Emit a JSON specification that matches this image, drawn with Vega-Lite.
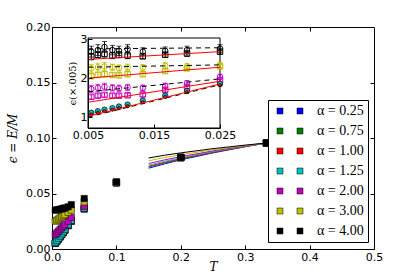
{
  "$schema": "https://vega.github.io/schema/vega-lite/v6.json",
  "width": 322,
  "height": 222,
  "autosize": {"type": "none"},
  "padding": {"left": 52, "top": 27, "right": 41, "bottom": 28},
  "config": {
    "view": {"stroke": "black", "strokeWidth": 1},
    "axis": {
      "grid": false,
      "domainColor": "black",
      "tickColor": "black",
      "labelColor": "black",
      "labelFont": "DejaVu Sans",
      "labelFontSize": 11,
      "labelFlush": false,
      "labelOverlap": false,
      "tickSize": -4,
      "titleColor": "black",
      "titleFontWeight": "normal"
    }
  },
  "datasets": {
    "main": [
      {"a": "α = 0.25", "T": 0.005, "e": 0.005}, {"a": "α = 0.25", "T": 0.0075, "e": 0.0068}, {"a": "α = 0.25", "T": 0.01, "e": 0.0088}, {"a": "α = 0.25", "T": 0.0125, "e": 0.0108}, {"a": "α = 0.25", "T": 0.015, "e": 0.0128}, {"a": "α = 0.25", "T": 0.0175, "e": 0.0148}, {"a": "α = 0.25", "T": 0.02, "e": 0.0168}, {"a": "α = 0.25", "T": 0.025, "e": 0.021}, {"a": "α = 0.25", "T": 0.03, "e": 0.025}, {"a": "α = 0.25", "T": 0.05, "e": 0.036}, {"a": "α = 0.25", "T": 0.1, "e": 0.0595}, {"a": "α = 0.25", "T": 0.2, "e": 0.0822}, {"a": "α = 0.25", "T": 0.333, "e": 0.0953},
      {"a": "α = 0.75", "T": 0.005, "e": 0.0052}, {"a": "α = 0.75", "T": 0.0075, "e": 0.007}, {"a": "α = 0.75", "T": 0.01, "e": 0.009}, {"a": "α = 0.75", "T": 0.0125, "e": 0.011}, {"a": "α = 0.75", "T": 0.015, "e": 0.013}, {"a": "α = 0.75", "T": 0.0175, "e": 0.015}, {"a": "α = 0.75", "T": 0.02, "e": 0.017}, {"a": "α = 0.75", "T": 0.025, "e": 0.0212}, {"a": "α = 0.75", "T": 0.03, "e": 0.0252}, {"a": "α = 0.75", "T": 0.05, "e": 0.0362}, {"a": "α = 0.75", "T": 0.1, "e": 0.0597}, {"a": "α = 0.75", "T": 0.2, "e": 0.0823}, {"a": "α = 0.75", "T": 0.333, "e": 0.0954},
      {"a": "α = 1.00", "T": 0.005, "e": 0.0054}, {"a": "α = 1.00", "T": 0.0075, "e": 0.0072}, {"a": "α = 1.00", "T": 0.01, "e": 0.0092}, {"a": "α = 1.00", "T": 0.0125, "e": 0.0112}, {"a": "α = 1.00", "T": 0.015, "e": 0.0132}, {"a": "α = 1.00", "T": 0.0175, "e": 0.0152}, {"a": "α = 1.00", "T": 0.02, "e": 0.0172}, {"a": "α = 1.00", "T": 0.025, "e": 0.0214}, {"a": "α = 1.00", "T": 0.03, "e": 0.0254}, {"a": "α = 1.00", "T": 0.05, "e": 0.0364}, {"a": "α = 1.00", "T": 0.1, "e": 0.0598}, {"a": "α = 1.00", "T": 0.2, "e": 0.0824}, {"a": "α = 1.00", "T": 0.333, "e": 0.0954},
      {"a": "α = 1.25", "T": 0.005, "e": 0.0058}, {"a": "α = 1.25", "T": 0.0075, "e": 0.0076}, {"a": "α = 1.25", "T": 0.01, "e": 0.0096}, {"a": "α = 1.25", "T": 0.0125, "e": 0.0116}, {"a": "α = 1.25", "T": 0.015, "e": 0.0136}, {"a": "α = 1.25", "T": 0.0175, "e": 0.0156}, {"a": "α = 1.25", "T": 0.02, "e": 0.0176}, {"a": "α = 1.25", "T": 0.025, "e": 0.0218}, {"a": "α = 1.25", "T": 0.03, "e": 0.0258}, {"a": "α = 1.25", "T": 0.05, "e": 0.0368}, {"a": "α = 1.25", "T": 0.1, "e": 0.06}, {"a": "α = 1.25", "T": 0.2, "e": 0.0825}, {"a": "α = 1.25", "T": 0.333, "e": 0.0955},
      {"a": "α = 2.00", "T": 0.005, "e": 0.013}, {"a": "α = 2.00", "T": 0.0075, "e": 0.0145}, {"a": "α = 2.00", "T": 0.01, "e": 0.016}, {"a": "α = 2.00", "T": 0.0125, "e": 0.0175}, {"a": "α = 2.00", "T": 0.015, "e": 0.019}, {"a": "α = 2.00", "T": 0.0175, "e": 0.0205}, {"a": "α = 2.00", "T": 0.02, "e": 0.022}, {"a": "α = 2.00", "T": 0.025, "e": 0.025}, {"a": "α = 2.00", "T": 0.03, "e": 0.0285}, {"a": "α = 2.00", "T": 0.05, "e": 0.0385}, {"a": "α = 2.00", "T": 0.1, "e": 0.0598}, {"a": "α = 2.00", "T": 0.2, "e": 0.0822}, {"a": "α = 2.00", "T": 0.333, "e": 0.0955},
      {"a": "α = 3.00", "T": 0.005, "e": 0.025}, {"a": "α = 3.00", "T": 0.0075, "e": 0.026}, {"a": "α = 3.00", "T": 0.01, "e": 0.027}, {"a": "α = 3.00", "T": 0.0125, "e": 0.028}, {"a": "α = 3.00", "T": 0.015, "e": 0.029}, {"a": "α = 3.00", "T": 0.0175, "e": 0.03}, {"a": "α = 3.00", "T": 0.02, "e": 0.031}, {"a": "α = 3.00", "T": 0.025, "e": 0.033}, {"a": "α = 3.00", "T": 0.03, "e": 0.035}, {"a": "α = 3.00", "T": 0.05, "e": 0.0425}, {"a": "α = 3.00", "T": 0.1, "e": 0.0602}, {"a": "α = 3.00", "T": 0.2, "e": 0.0826}, {"a": "α = 3.00", "T": 0.333, "e": 0.0955},
      {"a": "α = 4.00", "T": 0.005, "e": 0.035}, {"a": "α = 4.00", "T": 0.0075, "e": 0.0352}, {"a": "α = 4.00", "T": 0.01, "e": 0.0355}, {"a": "α = 4.00", "T": 0.0125, "e": 0.0358}, {"a": "α = 4.00", "T": 0.015, "e": 0.0362}, {"a": "α = 4.00", "T": 0.0175, "e": 0.0366}, {"a": "α = 4.00", "T": 0.02, "e": 0.037}, {"a": "α = 4.00", "T": 0.025, "e": 0.038}, {"a": "α = 4.00", "T": 0.03, "e": 0.04}, {"a": "α = 4.00", "T": 0.05, "e": 0.0455}, {"a": "α = 4.00", "T": 0.1, "e": 0.0605}, {"a": "α = 4.00", "T": 0.2, "e": 0.0827}, {"a": "α = 4.00", "T": 0.333, "e": 0.0956}
    ],
    "fits": [
      {"a": "α = 0.25", "T": 0.15, "e": 0.0728}, {"a": "α = 0.25", "T": 0.175, "e": 0.0767}, {"a": "α = 0.25", "T": 0.2, "e": 0.0803}, {"a": "α = 0.25", "T": 0.25, "e": 0.0866}, {"a": "α = 0.25", "T": 0.3, "e": 0.0921}, {"a": "α = 0.25", "T": 0.333, "e": 0.0955},
      {"a": "α = 0.75", "T": 0.15, "e": 0.0737}, {"a": "α = 0.75", "T": 0.175, "e": 0.0775}, {"a": "α = 0.75", "T": 0.2, "e": 0.0809}, {"a": "α = 0.75", "T": 0.25, "e": 0.087}, {"a": "α = 0.75", "T": 0.3, "e": 0.0923}, {"a": "α = 0.75", "T": 0.333, "e": 0.0955},
      {"a": "α = 1.00", "T": 0.15, "e": 0.0745}, {"a": "α = 1.00", "T": 0.175, "e": 0.0782}, {"a": "α = 1.00", "T": 0.2, "e": 0.0815}, {"a": "α = 1.00", "T": 0.25, "e": 0.0873}, {"a": "α = 1.00", "T": 0.3, "e": 0.0924}, {"a": "α = 1.00", "T": 0.333, "e": 0.0955},
      {"a": "α = 1.25", "T": 0.15, "e": 0.0755}, {"a": "α = 1.25", "T": 0.175, "e": 0.079}, {"a": "α = 1.25", "T": 0.2, "e": 0.0822}, {"a": "α = 1.25", "T": 0.25, "e": 0.0878}, {"a": "α = 1.25", "T": 0.3, "e": 0.0926}, {"a": "α = 1.25", "T": 0.333, "e": 0.0955},
      {"a": "α = 2.00", "T": 0.15, "e": 0.077}, {"a": "α = 2.00", "T": 0.175, "e": 0.0803}, {"a": "α = 2.00", "T": 0.2, "e": 0.0832}, {"a": "α = 2.00", "T": 0.25, "e": 0.0884}, {"a": "α = 2.00", "T": 0.3, "e": 0.0928}, {"a": "α = 2.00", "T": 0.333, "e": 0.0955},
      {"a": "α = 3.00", "T": 0.15, "e": 0.0795}, {"a": "α = 3.00", "T": 0.175, "e": 0.0824}, {"a": "α = 3.00", "T": 0.2, "e": 0.0849}, {"a": "α = 3.00", "T": 0.25, "e": 0.0894}, {"a": "α = 3.00", "T": 0.3, "e": 0.0932}, {"a": "α = 3.00", "T": 0.333, "e": 0.0955},
      {"a": "α = 4.00", "T": 0.15, "e": 0.082}, {"a": "α = 4.00", "T": 0.175, "e": 0.0845}, {"a": "α = 4.00", "T": 0.2, "e": 0.0866}, {"a": "α = 4.00", "T": 0.25, "e": 0.0904}, {"a": "α = 4.00", "T": 0.3, "e": 0.0936}, {"a": "α = 4.00", "T": 0.333, "e": 0.0955}
    ],
    "inset": [
      {"a": "α = 4.00", "k": "o", "T": 0.0055, "v": 2.68, "err": 0.14}, {"a": "α = 4.00", "k": "o", "T": 0.0065, "v": 2.72, "err": 0.14}, {"a": "α = 4.00", "k": "o", "T": 0.0075, "v": 2.8, "err": 0.14}, {"a": "α = 4.00", "k": "o", "T": 0.0087, "v": 2.72, "err": 0.12}, {"a": "α = 4.00", "k": "o", "T": 0.0097, "v": 2.7, "err": 0.12}, {"a": "α = 4.00", "k": "o", "T": 0.011, "v": 2.74, "err": 0.12}, {"a": "α = 4.00", "k": "o", "T": 0.0133, "v": 2.68, "err": 0.1}, {"a": "α = 4.00", "k": "o", "T": 0.0167, "v": 2.7, "err": 0.1}, {"a": "α = 4.00", "k": "o", "T": 0.02, "v": 2.72, "err": 0.1}, {"a": "α = 4.00", "k": "o", "T": 0.025, "v": 2.76, "err": 0.1},
      {"a": "α = 4.00", "k": "s", "T": 0.0055, "v": 2.55, "err": 0.08}, {"a": "α = 4.00", "k": "s", "T": 0.0065, "v": 2.6, "err": 0.08}, {"a": "α = 4.00", "k": "s", "T": 0.0075, "v": 2.62, "err": 0.08}, {"a": "α = 4.00", "k": "s", "T": 0.0087, "v": 2.58, "err": 0.08}, {"a": "α = 4.00", "k": "s", "T": 0.0097, "v": 2.6, "err": 0.08}, {"a": "α = 4.00", "k": "s", "T": 0.011, "v": 2.58, "err": 0.08}, {"a": "α = 4.00", "k": "s", "T": 0.0133, "v": 2.56, "err": 0.06}, {"a": "α = 4.00", "k": "s", "T": 0.0167, "v": 2.6, "err": 0.06}, {"a": "α = 4.00", "k": "s", "T": 0.02, "v": 2.63, "err": 0.06}, {"a": "α = 4.00", "k": "s", "T": 0.025, "v": 2.68, "err": 0.06},
      {"a": "α = 3.00", "k": "o", "T": 0.0055, "v": 2.25, "err": 0.1}, {"a": "α = 3.00", "k": "o", "T": 0.0065, "v": 2.28, "err": 0.1}, {"a": "α = 3.00", "k": "o", "T": 0.0075, "v": 2.3, "err": 0.1}, {"a": "α = 3.00", "k": "o", "T": 0.0087, "v": 2.28, "err": 0.08}, {"a": "α = 3.00", "k": "o", "T": 0.0097, "v": 2.26, "err": 0.08}, {"a": "α = 3.00", "k": "o", "T": 0.011, "v": 2.28, "err": 0.08}, {"a": "α = 3.00", "k": "o", "T": 0.0133, "v": 2.27, "err": 0.08}, {"a": "α = 3.00", "k": "o", "T": 0.0167, "v": 2.32, "err": 0.08}, {"a": "α = 3.00", "k": "o", "T": 0.02, "v": 2.3, "err": 0.08}, {"a": "α = 3.00", "k": "o", "T": 0.025, "v": 2.33, "err": 0.08},
      {"a": "α = 3.00", "k": "s", "T": 0.0055, "v": 2.05, "err": 0.06}, {"a": "α = 3.00", "k": "s", "T": 0.0065, "v": 2.08, "err": 0.06}, {"a": "α = 3.00", "k": "s", "T": 0.0075, "v": 2.1, "err": 0.06}, {"a": "α = 3.00", "k": "s", "T": 0.0087, "v": 2.08, "err": 0.06}, {"a": "α = 3.00", "k": "s", "T": 0.0097, "v": 2.07, "err": 0.06}, {"a": "α = 3.00", "k": "s", "T": 0.011, "v": 2.1, "err": 0.06}, {"a": "α = 3.00", "k": "s", "T": 0.0133, "v": 2.1, "err": 0.05}, {"a": "α = 3.00", "k": "s", "T": 0.0167, "v": 2.18, "err": 0.05}, {"a": "α = 3.00", "k": "s", "T": 0.02, "v": 2.25, "err": 0.05}, {"a": "α = 3.00", "k": "s", "T": 0.025, "v": 2.3, "err": 0.05},
      {"a": "α = 2.00", "k": "o", "T": 0.0055, "v": 1.72, "err": 0.09}, {"a": "α = 2.00", "k": "o", "T": 0.0065, "v": 1.75, "err": 0.09}, {"a": "α = 2.00", "k": "o", "T": 0.0075, "v": 1.78, "err": 0.09}, {"a": "α = 2.00", "k": "o", "T": 0.0087, "v": 1.75, "err": 0.08}, {"a": "α = 2.00", "k": "o", "T": 0.0097, "v": 1.74, "err": 0.08}, {"a": "α = 2.00", "k": "o", "T": 0.011, "v": 1.76, "err": 0.08}, {"a": "α = 2.00", "k": "o", "T": 0.0133, "v": 1.75, "err": 0.07}, {"a": "α = 2.00", "k": "o", "T": 0.0167, "v": 1.8, "err": 0.07}, {"a": "α = 2.00", "k": "o", "T": 0.02, "v": 1.87, "err": 0.07}, {"a": "α = 2.00", "k": "o", "T": 0.025, "v": 2.03, "err": 0.07},
      {"a": "α = 2.00", "k": "s", "T": 0.0055, "v": 1.52, "err": 0.05}, {"a": "α = 2.00", "k": "s", "T": 0.0065, "v": 1.55, "err": 0.05}, {"a": "α = 2.00", "k": "s", "T": 0.0075, "v": 1.57, "err": 0.05}, {"a": "α = 2.00", "k": "s", "T": 0.0087, "v": 1.55, "err": 0.05}, {"a": "α = 2.00", "k": "s", "T": 0.0097, "v": 1.55, "err": 0.05}, {"a": "α = 2.00", "k": "s", "T": 0.011, "v": 1.56, "err": 0.05}, {"a": "α = 2.00", "k": "s", "T": 0.0133, "v": 1.58, "err": 0.05}, {"a": "α = 2.00", "k": "s", "T": 0.0167, "v": 1.7, "err": 0.05}, {"a": "α = 2.00", "k": "s", "T": 0.02, "v": 1.78, "err": 0.05}, {"a": "α = 2.00", "k": "s", "T": 0.025, "v": 1.95, "err": 0.05},
      {"a": "α = 1.25", "k": "f", "T": 0.0055, "v": 1.11, "err": 0.03}, {"a": "α = 1.25", "k": "f", "T": 0.0065, "v": 1.15, "err": 0.03}, {"a": "α = 1.25", "k": "f", "T": 0.0075, "v": 1.19, "err": 0.03}, {"a": "α = 1.25", "k": "f", "T": 0.0087, "v": 1.23, "err": 0.03}, {"a": "α = 1.25", "k": "f", "T": 0.0097, "v": 1.27, "err": 0.03}, {"a": "α = 1.25", "k": "f", "T": 0.011, "v": 1.32, "err": 0.03}, {"a": "α = 1.25", "k": "f", "T": 0.0133, "v": 1.42, "err": 0.03}, {"a": "α = 1.25", "k": "f", "T": 0.0167, "v": 1.55, "err": 0.03}, {"a": "α = 1.25", "k": "f", "T": 0.02, "v": 1.67, "err": 0.03}, {"a": "α = 1.25", "k": "f", "T": 0.025, "v": 1.85, "err": 0.03},
      {"a": "α = 1.00", "k": "r", "T": 0.0055, "v": 1.07, "err": 0.03}, {"a": "α = 1.00", "k": "r", "T": 0.0065, "v": 1.11, "err": 0.03}, {"a": "α = 1.00", "k": "r", "T": 0.0075, "v": 1.15, "err": 0.03}, {"a": "α = 1.00", "k": "r", "T": 0.0087, "v": 1.19, "err": 0.03}, {"a": "α = 1.00", "k": "r", "T": 0.0097, "v": 1.23, "err": 0.03}, {"a": "α = 1.00", "k": "r", "T": 0.011, "v": 1.28, "err": 0.03}, {"a": "α = 1.00", "k": "r", "T": 0.0133, "v": 1.38, "err": 0.03}, {"a": "α = 1.00", "k": "r", "T": 0.0167, "v": 1.52, "err": 0.03}, {"a": "α = 1.00", "k": "r", "T": 0.02, "v": 1.64, "err": 0.03}, {"a": "α = 1.00", "k": "r", "T": 0.025, "v": 1.82, "err": 0.03}
    ],
    "insetLines": [
      {"g": "r1", "kind": "fit", "T": 0.005, "v": 2.48}, {"g": "r1", "kind": "fit", "T": 0.025, "v": 2.68},
      {"g": "r2", "kind": "fit", "T": 0.005, "v": 2.0}, {"g": "r2", "kind": "fit", "T": 0.025, "v": 2.28},
      {"g": "r3", "kind": "fit", "T": 0.005, "v": 1.38}, {"g": "r3", "kind": "fit", "T": 0.025, "v": 1.92},
      {"g": "r4", "kind": "fit", "T": 0.005, "v": 1.02}, {"g": "r4", "kind": "fit", "T": 0.025, "v": 1.85},
      {"g": "d1", "kind": "dash", "T": 0.005, "v": 2.75}, {"g": "d1", "kind": "dash", "T": 0.025, "v": 2.78},
      {"g": "d2", "kind": "dash", "T": 0.005, "v": 2.28}, {"g": "d2", "kind": "dash", "T": 0.025, "v": 2.34},
      {"g": "d3", "kind": "dash", "T": 0.005, "v": 1.65}, {"g": "d3", "kind": "dash", "T": 0.025, "v": 1.98},
      {"g": "d4", "kind": "dash", "T": 0.005, "v": 1.0}, {"g": "d4", "kind": "dash", "T": 0.025, "v": 1.83}
    ]
  },
  "layer": [
    {
      "data": {"values": [{}]},
      "mark": {"type": "point", "opacity": 0, "size": 1},
      "encoding": {
        "x": {"datum": 0, "type": "quantitative", "scale": {"domain": [0, 0.5], "nice": false}, "axis": {"orient": "top", "values": [0.1, 0.2, 0.3, 0.4], "labels": false, "domain": false, "title": null}},
        "y": {"datum": 0, "type": "quantitative", "scale": {"domain": [0, 0.2], "nice": false}, "axis": {"orient": "right", "values": [0.05, 0.1, 0.15], "labels": false, "domain": false, "title": null}}
      }
    },
    {
      "layer": [
        {
          "data": {"name": "fits"},
          "mark": {"type": "line", "strokeWidth": 1},
          "encoding": {
            "x": {"field": "T", "type": "quantitative", "title": "T", "scale": {"domain": [0, 0.5], "nice": false}, "axis": {"orient": "bottom", "values": [0, 0.1, 0.2, 0.3, 0.4, 0.5], "format": ".1f", "labelPadding": 6, "titleFont": "DejaVu Serif", "titleFontStyle": "italic", "titleFontSize": 12, "titlePadding": -1}},
            "y": {"field": "e", "type": "quantitative", "title": "ϵ = E/M", "scale": {"domain": [0, 0.2], "nice": false}, "axis": {"orient": "left", "values": [0, 0.05, 0.1, 0.15, 0.2], "format": ".2f", "labelPadding": 6, "titleFont": "DejaVu Serif", "titleFontStyle": "italic", "titleFontSize": 12, "titlePadding": 6}},
            "stroke": {"field": "a", "type": "nominal", "legend": null, "scale": {"domain": ["α = 4.00", "α = 3.00", "α = 2.00", "α = 1.25", "α = 1.00", "α = 0.75", "α = 0.25"], "range": ["#000000", "#bfbf00", "#bf00bf", "#00bfbf", "#ff0000", "#008000", "#0000ff"]}},
            "detail": {"field": "a"}
          }
        },
        {
          "data": {"name": "main"},
          "mark": {"type": "point", "shape": "square", "filled": true, "size": 40, "opacity": 1, "stroke": "black", "strokeWidth": 0.5},
          "encoding": {
            "x": {"field": "T", "type": "quantitative", "title": "T"},
            "y": {"field": "e", "type": "quantitative", "title": "ϵ = E/M"},
            "fill": {"field": "a", "type": "nominal", "title": null, "scale": {"domain": ["α = 0.25", "α = 0.75", "α = 1.00", "α = 1.25", "α = 2.00", "α = 3.00", "α = 4.00"], "range": ["#0000ff", "#008000", "#ff0000", "#00bfbf", "#bf00bf", "#bfbf00", "#000000"]},
              "legend": {"orient": "none", "legendX": 216, "legendY": 73, "symbolType": "M-2.6,-0.6H-1.4V0.6H-2.6Z M1.4,-0.6H2.6V0.6H1.4Z", "symbolSize": 100, "symbolStrokeColor": "black", "symbolStrokeWidth": 0.5, "symbolOffset": 11, "labelFont": "Liberation Serif", "labelFontSize": 14, "labelColor": "black", "labelOffset": 20, "rowPadding": 6, "padding": 4, "strokeColor": "black", "fillColor": "white", "cornerRadius": 0}}
          }
        }
      ]
    },
    {
      "layer": [
        {
          "data": {"values": [{}]},
          "mark": {"type": "rect", "fill": "white", "stroke": "black", "strokeWidth": 1},
          "encoding": {
            "x": {"datum": 0.005, "type": "quantitative", "title": null, "scale": {"domain": [0.005, 0.025], "range": [36, 168], "nice": false, "zero": false}, "axis": {"values": [0.005, 0.015, 0.025], "format": ".3f", "orient": "bottom", "offset": -121, "zindex": 1, "labelPadding": 5}},
            "x2": {"datum": 0.025},
            "y": {"datum": 0.72, "type": "quantitative", "title": "ϵ(×.005)", "scale": {"domain": [0.72, 3.03], "range": [101, 11], "nice": false, "zero": false}, "axis": {"values": [1, 2, 3], "format": "d", "orient": "left", "offset": -36, "zindex": 1, "labelPadding": 5, "titleFont": "DejaVu Serif", "titleFontSize": 10, "titlePadding": 3}},
            "y2": {"datum": 3.03}
          }
        },
        {
          "data": {"name": "inset"},
          "transform": [{"filter": "datum.k == 'o' || datum.k == 's'"}],
          "mark": {"type": "errorbar", "ticks": true, "thickness": 1},
          "encoding": {
            "x": {"field": "T", "type": "quantitative", "title": null},
            "y": {"field": "v", "type": "quantitative", "title": "ϵ(×.005)"},
            "yError": {"field": "err"},
            "color": {"field": "a", "type": "nominal", "legend": null, "scale": {"domain": ["α = 1.00", "α = 1.25", "α = 2.00", "α = 3.00", "α = 4.00", "α = 0.25", "α = 0.75"], "range": ["#ff0000", "#00bfbf", "#bf00bf", "#bfbf00", "#000000", "#0000ff", "#008000"]}}
          }
        },
        {
          "data": {"name": "inset"},
          "transform": [{"filter": "datum.k == 's'"}],
          "mark": {"type": "point", "shape": "square", "filled": false, "size": 30, "strokeWidth": 1, "opacity": 1},
          "encoding": {
            "x": {"field": "T", "type": "quantitative", "title": null},
            "y": {"field": "v", "type": "quantitative", "title": "ϵ(×.005)"},
            "stroke": {"field": "a", "type": "nominal", "legend": null}
          }
        },
        {
          "data": {"name": "inset"},
          "transform": [{"filter": "datum.k == 'o'"}],
          "mark": {"type": "point", "shape": "circle", "filled": false, "size": 30, "strokeWidth": 1, "opacity": 1},
          "encoding": {
            "x": {"field": "T", "type": "quantitative", "title": null},
            "y": {"field": "v", "type": "quantitative", "title": "ϵ(×.005)"},
            "stroke": {"field": "a", "type": "nominal", "legend": null}
          }
        },
        {
          "data": {"name": "inset"},
          "transform": [{"filter": "datum.k == 'f' || datum.k == 'r'"}],
          "mark": {"type": "point", "shape": "circle", "filled": true, "size": 30, "stroke": "black", "strokeWidth": 0.7, "opacity": 1},
          "encoding": {
            "x": {"field": "T", "type": "quantitative", "title": null},
            "y": {"field": "v", "type": "quantitative", "title": "ϵ(×.005)"},
            "color": {"field": "a", "type": "nominal", "legend": null},
            "size": {"field": "k", "type": "nominal", "legend": null, "scale": {"domain": ["f", "r"], "range": [30, 10]}},
            "order": {"field": "k", "sort": "ascending"}
          }
        },
        {
          "data": {"name": "insetLines"},
          "transform": [{"filter": "datum.kind == 'dash'"}],
          "mark": {"type": "line", "color": "black", "strokeWidth": 1, "strokeDash": [5, 4]},
          "encoding": {
            "x": {"field": "T", "type": "quantitative", "title": null},
            "y": {"field": "v", "type": "quantitative", "title": "ϵ(×.005)"},
            "detail": {"field": "g"}
          }
        },
        {
          "data": {"name": "insetLines"},
          "transform": [{"filter": "datum.kind == 'fit'"}],
          "mark": {"type": "line", "color": "#ff0000", "strokeWidth": 1},
          "encoding": {
            "x": {"field": "T", "type": "quantitative", "title": null},
            "y": {"field": "v", "type": "quantitative", "title": "ϵ(×.005)"},
            "detail": {"field": "g"}
          }
        }
      ]
    }
  ],
  "resolve": {"scale": {"x": "independent", "y": "independent"}, "axis": {"x": "independent", "y": "independent"}}
}
